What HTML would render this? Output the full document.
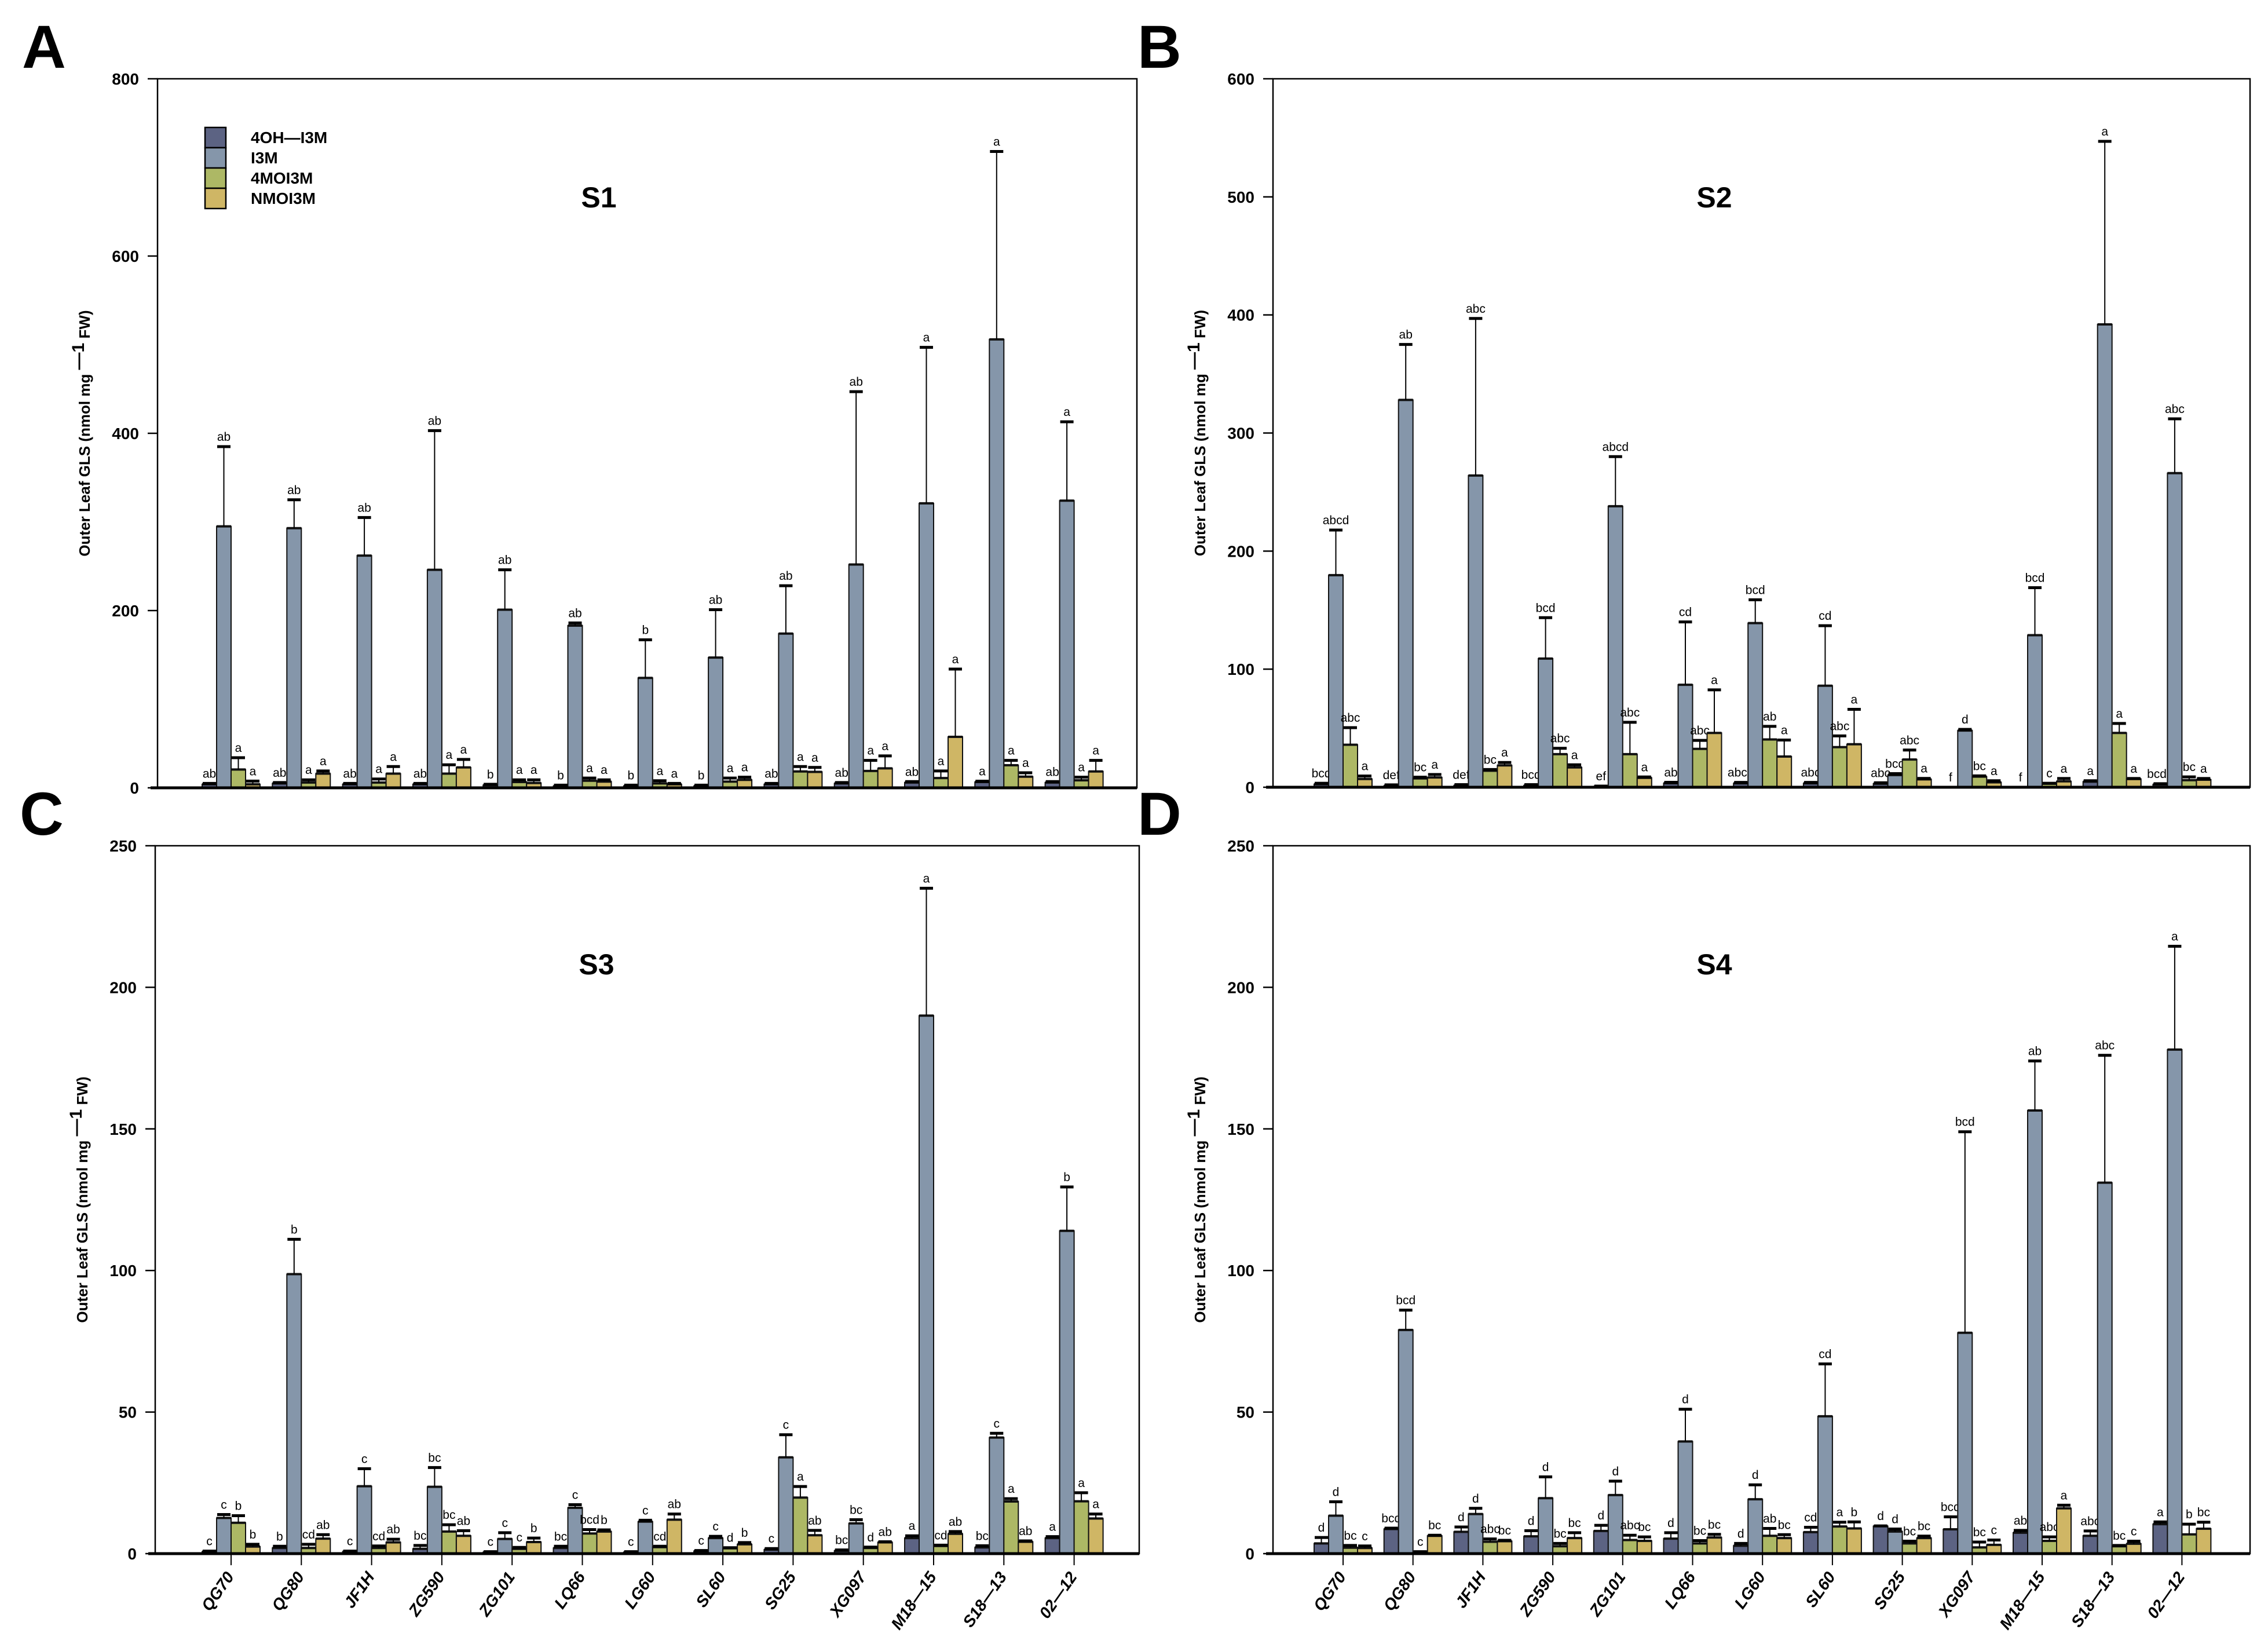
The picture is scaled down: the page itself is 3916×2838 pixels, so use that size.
<!DOCTYPE html>
<html><head><meta charset="utf-8"><style>
html,body{margin:0;padding:0;background:#fff}
svg{display:block;font-family:"Liberation Sans",Arial,sans-serif}
</style></head><body>
<svg id="chart" width="3916" height="2838" viewBox="0 0 3916 2838" xmlns="http://www.w3.org/2000/svg"></svg>
<script>
const categories=["QG70","QG80","JF1H","ZG590","ZG101","LQ66","LG60","SL60","SG25","XG097","M18\u201415","S18\u201413","02\u201412"];
const seriesNames=["4OH\u2014I3M","I3M","4MOI3M","NMOI3M"];
const seriesColors=["#5c6383","#8596aa","#adb865","#cfb665"];

// Panel A (S1)
const aOH=[4,5,4,4,3,2,2,2,4,5,6,6.5,6];
const aOHErr=[5,6,5,5,4,3,3,3,5,6,7,7.5,7];
const aI3M=[295,293,262,246,201,183,124,147,174,252,321,506,324];
const aI3MErr=[385,325,305,403,246,186,167,201,228,447,497,718,413];
const aMO=[20.7,6,6,16,6.5,8,5,7,18.5,19,11,25.5,8.5];
const aMOErr=[34,9,10,26,9,11,8,11,24,31,19,31,12];
const aNMO=[4,16,16,23,5.5,7,4,9,18,22,57.5,12.6,18.5];
const aNMOErr=[7.6,19,24,32,9,9,5,12,23,36,134,17,31];
const aOHLab=["ab","ab","ab","ab","b","b","b","b","ab","ab","ab","a","ab"];
const aI3MLab=["ab","ab","ab","ab","ab","ab","b","ab","ab","ab","a","a","a"];
const aMOLab=["a","a","a","a","a","a","a","a","a","a","a","a","a"];
const aNMOLab=["a","a","a","a","a","a","a","a","a","a","a","a","a"];
const aTicks=[0,200,400,600,800];

// Panel B (S2)
const bOH=[2.6,1.3,1.5,1.5,0.5,3.4,3.3,3.3,3,0,0,4.7,2.3];
const bOHErr=[3.4,2,2.2,2.2,1,4.2,4.1,4.1,3.8,0,0,5.5,3];
const bI3M=[179.6,328,264,109,238,86.8,139,86,10.3,48,128.8,392,266];
const bI3MErr=[217.8,375,397,143.6,280,140,158.8,136.8,11.5,49,169,547,312];
const bMO=[36,7.5,14,28,28,32.5,40.5,34,23.5,9,3,46,6];
const bMOErr=[50.5,8.5,15,33,55,39.7,51.6,43.5,31.5,9.6,3.4,54,8.8];
const bNMO=[7,8.3,18.5,16.8,8,46,26,36.4,6.7,4.2,5,7,6.4];
const bNMOErr=[9.5,10.8,21,19,8.7,82.5,40,66,7.5,5.5,7.4,7.4,7.4];
const bOHLab=["bcd","def","def","bcd","ef","ab","abcd","abc","abc","f","f","a","bcde"];
const bI3MLab=["abcd","ab","abc","bcd","abcd","cd","bcd","cd","bcd","d","bcd","a","abc"];
const bMOLab=["abc","bc","bc","abc","abc","abc","ab","abc","abc","bc","c","a","bc"];
const bNMOLab=["a","a","a","a","a","a","a","a","a","a","a","a","a"];
const bTicks=[0,100,200,300,400,500,600];

// Panel C (S3)
const cOH=[0.7,2,0.7,1.7,0.5,2,0.5,0.9,1.4,1,5.5,2.2,5.5];
const cOHErr=[0.9,2.6,0.9,2.9,0.7,2.6,0.7,1.1,1.8,1.3,6.3,2.8,6];
const cI3M=[12.6,98.7,23.8,23.6,5.2,16.2,11.3,5.5,34,10.7,190,41,114];
const cI3MErr=[13.8,111,30,30.4,7.4,17.3,11.8,6.1,42,12,235,42.5,129.5];
const cMO=[10.9,2,2,7.8,1.7,7.1,2.3,1.9,19.8,2,2.7,18.4,18.5];
const cMOErr=[13.4,3.3,2.7,10.2,2.2,8.5,2.6,2.1,23.7,2.3,3,19.4,21.5];
const cNMO=[2.5,5.3,4,6.3,4.1,7.8,12,3.3,6.5,4,7,4.2,12.4];
const cNMOErr=[3.3,6.7,5.1,8.1,5.5,8.4,14,3.9,8.2,4.2,7.8,4.5,14];
const cOHLab=["c","b","c","bc","c","bc","c","c","c","bc","a","bc","a"];
const cI3MLab=["c","b","c","bc","c","c","c","c","c","bc","a","c","b"];
const cMOLab=["b","cd","cd","bc","c","bcd","cd","d","a","d","cd","a","a"];
const cNMOLab=["b","ab","ab","ab","b","b","ab","b","ab","ab","ab","ab","a"];
const cTicks=[0,50,100,150,200,250];

// Panel D (S4)
const dOH=[3.6,8.7,7.7,6.1,8,5.3,2.8,7.6,9.7,8.6,7.4,6.3,10.4];
const dOHErr=[5.7,9,9.4,8.1,10,7.4,3.6,9.3,9.8,13,8.2,8,11.2];
const dI3M=[13.4,79,14,19.6,20.7,39.6,19.2,48.5,7.8,78,156.5,131,178];
const dI3MErr=[18.3,86,16,27.1,25.6,51,24.3,67,8.7,149,174,176,214.5];
const dMO=[2.1,0.5,4.2,2.6,4.8,3.6,6.3,9.6,3.6,2.2,4.5,2.6,6.8];
const dMOErr=[2.9,0.7,5.2,3.6,6.5,4.6,8.9,11.1,4.4,4.1,5.9,2.9,10.4];
const dNMO=[2,6.3,4.4,5.5,4.5,5.7,5.5,8.9,5.5,3.1,16,3.5,8.8];
const dNMOErr=[2.7,6.5,4.7,7.4,5.9,6.8,6.7,11.2,6.2,4.8,17.1,4.4,11.1];
const dOHLab=["d","bcd","d","d","d","d","d","cd","d","bcd","ab","abc","a"];
const dI3MLab=["d","bcd","d","d","d","d","d","cd","d","bcd","ab","abc","a"];
const dMOLab=["bc","c","abc","bc","abc","bc","ab","a","bc","bc","abc","bc","b"];
const dNMOLab=["c","bc","bc","bc","bc","bc","bc","b","bc","c","a","c","bc"];
const dTicks=[0,50,100,150,200,250];

const NS="http://www.w3.org/2000/svg";
const svg=document.getElementById("chart");
function mk(tag,attrs,parent){const e=document.createElementNS(NS,tag);for(const k in attrs)e.setAttribute(k,attrs[k]);(parent||svg).appendChild(e);return e;}

const panels=[
 {id:"a",letter:"A",title:"S1",L:272,T:136,R:1963,B:1360,max:800,ticks:aTicks,first:399,step:121.3,xlab:false,
  vals:[aOH,aI3M,aMO,aNMO],errs:[aOHErr,aI3MErr,aMOErr,aNMOErr],labs:[aOHLab,aI3MLab,aMOLab,aNMOLab]},
 {id:"b",letter:"B",title:"S2",L:2198,T:136,R:3885,B:1359,max:600,ticks:bTicks,first:2319,step:120.7,xlab:false,
  vals:[bOH,bI3M,bMO,bNMO],errs:[bOHErr,bI3MErr,bMOErr,bNMOErr],labs:[bOHLab,bI3MLab,bMOLab,bNMOLab]},
 {id:"c",letter:"C",title:"S3",L:268,T:1460,R:1967,B:2682,max:250,ticks:cTicks,first:399,step:121.3,xlab:true,
  vals:[cOH,cI3M,cMO,cNMO],errs:[cOHErr,cI3MErr,cMOErr,cNMOErr],labs:[cOHLab,cI3MLab,cMOLab,cNMOLab]},
 {id:"d",letter:"D",title:"S4",L:2198,T:1460,R:3885,B:2682,max:250,ticks:dTicks,first:2319,step:120.7,xlab:true,
  vals:[dOH,dI3M,dMO,dNMO],errs:[dOHErr,dI3MErr,dMOErr,dNMOErr],labs:[dOHLab,dI3MLab,dMOLab,dNMOLab]}
];
const BW=25;

panels.forEach(p=>{
  const g=mk("g",{});
  
  
  const y=v=>p.B-(v/p.max)*(p.B-p.T);
  const xc=i=>p.first+i*p.step;

  const let_=mk("text",{x:p.L-234,y:p.T-19,"font-size":105,"font-weight":"bold"},g);
  let_.textContent=p.letter;
  
  

  const fr=mk("rect",{x:p.L,y:p.T,width:p.R-p.L,height:p.B-p.T,fill:"none",stroke:"#000","stroke-width":2.5},g);
  
  

  p.ticks.forEach(t=>{
    const ty=y(t);
    const tl=mk("line",{x1:p.L-17,x2:p.L,y1:ty,y2:ty,stroke:"#000","stroke-width":2.5},g);
    
    
    const tt=mk("text",{x:p.L-32,y:ty+10,"font-size":28,"font-weight":"bold","text-anchor":"end"},g);
    tt.textContent=t;
    
    
  });

  const yt=mk("text",{x:p.L-117,y:(p.T+p.B)/2,"font-size":26,"font-weight":"bold","text-anchor":"middle",transform:`rotate(-90 ${p.L-117} ${(p.T+p.B)/2})`},g);
  
  
  yt.appendChild(document.createTextNode("Outer Leaf GLS (nmol mg "));
  const sup=mk("tspan",{"font-size":30,dy:-10},yt);sup.textContent="\u20141";
  const rest=mk("tspan",{dy:10},yt);rest.textContent=" FW)";

  const ti=mk("text",{x:p.L+762,y:p.T+222,"font-size":50,"font-weight":"bold","text-anchor":"middle"},g);
  ti.textContent=p.title;
  
  

  categories.forEach((c,i)=>{
    for(let k=0;k<4;k++){
      const v=p.vals[k][i],e=p.errs[k][i];
      const bx=xc(i)-2*BW+k*BW;
      const r=mk("rect",{x:bx,y:y(v),width:BW,height:Math.max(0,p.B-y(v)),fill:seriesColors[k],stroke:"#111","stroke-width":2},g);
      
      
      const topLine=mk("line",{x1:bx,x2:bx+BW,y1:y(v),y2:y(v),stroke:"#111","stroke-width":4},g);
      
      
      if(e>v){
        const el=mk("line",{x1:bx+BW/2,x2:bx+BW/2,y1:y(v),y2:y(e),stroke:"#000","stroke-width":2},g);
        
        
      }
      const cap=mk("line",{x1:bx+1,x2:bx+BW-1,y1:y(e),y2:y(e),stroke:"#000","stroke-width":5},g);
      
      
      const lt=mk("text",{x:bx+BW/2,y:y(e)-10,"font-size":21,"text-anchor":"middle"},g);
      lt.textContent=p.labs[k][i];
      
      
    }
    if(p.xlab){
      const xt=mk("line",{x1:xc(i),x2:xc(i),y1:p.B,y2:p.B+20,stroke:"#000","stroke-width":2},g);
      
      
      const xl=mk("text",{x:xc(i)+6,y:p.B+40,"font-size":28,"font-weight":"bold","font-style":"italic","text-anchor":"end",transform:`rotate(-55 ${xc(i)+6} ${p.B+40})`},g);
      xl.textContent=c;
      
      
    }
  });

  const ax=mk("line",{x1:p.L-12,x2:p.R,y1:p.B,y2:p.B,stroke:"#000","stroke-width":5},g);
  
  
});

// legend in panel A
const lg=mk("g",{});


seriesNames.forEach((s,k)=>{
  const sw=mk("rect",{x:354,y:220+k*35,width:36,height:35,fill:seriesColors[k],stroke:"#000","stroke-width":2.5},lg);
  
  
  const t=mk("text",{x:433,y:247+k*35,"font-size":28,"font-weight":"bold"},lg);
  t.textContent=s;
  
  
});
</script>
</body></html>
